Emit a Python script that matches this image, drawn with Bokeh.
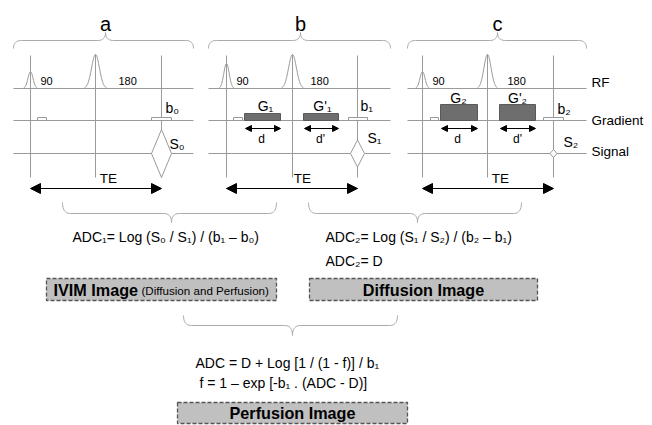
import numpy as np
from bokeh.plotting import figure
from bokeh.models import Range1d, Arrow, NormalHead, ColumnDataSource
from bokeh.core.properties import value
from bokeh.embed import file_html
from bokeh.resources import INLINE

FONT = value("Liberation Sans")

# ---- pulse-sequence panels ----
panel_names = ["a", "b", "c"]
panel_left = [13, 208, 407]
panel_right = [193, 390, 586]
panel_mid = [105, 300, 497]
t90 = [30, 226, 422]
t180 = [95, 292, 487]
techo = [161, 357, 553]
p90_peak = [71, 63, 71]
p90_halfw = [7, 7.5, 7]
p180_peak = [54, 54, 54]
p180_halfw = [11, 11, 10]
label90_x = [40, 236, 432]
label180_x = [118, 310, 507]
y_rf, y_grad, y_sig = 88, 120, 153
y_line_top, y_line_bottom = 55, 177

crusher_x0 = [37, 233, 430]
crusher_x1 = [46, 242, 438]
bval_x0 = [151, 348, 543]
bval_x1 = [171, 367, 563]
bval_labels = ["b₀", "b₁", "b₂"]
bval_label_x = [165, 360, 557]
bval_label_y = [107, 105, 108]

lobe_x0 = [244, 303, 440, 499]
lobe_x1 = [280, 338, 477, 535]
lobe_top = [113, 113, 104, 104]
lobe_labels = ["G₁", "G'₁", "G₂", "G'₂"]
lobe_label_x = [265, 322, 458, 517]
lobe_label_y = [105, 105, 97, 97]
d_labels = ["d", "d'", "d", "d'"]
d_label_x = [261, 320, 457, 517]

sig_half_h = [24, 13.5, 4]
sig_half_w = [10, 7, 3.5]
sig_labels = ["S₀", "S₁", "S₂"]
sig_label_x = [169, 367, 563]
sig_label_y = [143, 137, 141]
te_label_x = [108, 302, 500]

row_labels = ["RF", "Gradient", "Signal"]
row_label_y = [82, 120, 151]

# ---- lower part ----
brace_x0 = [62, 308, 183]
brace_x1 = [276, 521, 397]
brace_xc = [171, 417, 292]
brace_yend = [202, 202, 315]
brace_yh = [213, 213, 325]
brace_ytip = [222, 222, 335]

formula_text = ["ADC₁= Log (S₀ / S₁) / (b₁ – b₀)",
                "ADC₂= Log (S₁ / S₂) / (b₂ – b₁)",
                "ADC₂= D",
                "ADC = D + Log [1 / (1 - f)] / b₁",
                "f = 1 – exp [-b₁ . (ADC - D)]"]
formula_x = [72, 325, 325, 195, 199]
formula_y = [236, 236, 260, 362, 382]

box_left = [46, 309, 177]
box_right = [276, 537, 407]
box_top = [278, 278, 402]
box_bottom = [300, 300, 423]
box_titles = ["IVIM Image", "Diffusion Image", "Perfusion Image"]
box_title_x = [53, 423, 292]
box_title_align = ["left", "center", "center"]
box_note = "(Diffusion and Perfusion)"
box_note_x = 141

GRAY = "#9a9a9a"

p = figure(width=652, height=425, output_backend="svg", toolbar_location=None,
           x_range=Range1d(0, 652), y_range=Range1d(425, 0), min_border=0)
p.axis.visible = False
p.grid.visible = False
p.outline_line_color = None
p.background_fill_color = "white"

def brace_points(x0, x1, xc, yend, yh, ytip, r=8, n=12):
    t = np.linspace(0, 1, n)
    def q(a, c, b):
        return ((1 - t) ** 2)[:, None] * np.array(a) + (2 * (1 - t) * t)[:, None] * np.array(c) + (t ** 2)[:, None] * np.array(b)
    segs = [q((x0, yend), (x0, yh), (x0 + r, yh)),
            q((xc - r, yh), (xc, yh), (xc, ytip)),
            q((xc, ytip), (xc, yh), (xc + r, yh)),
            q((x1 - r, yh), (x1, yh), (x1, yend))]
    pts = np.vstack(segs)
    return list(pts[:, 0]), list(pts[:, 1])

bx, by = [], []
for i in range(3):
    xs, ys = brace_points(panel_left[i], panel_right[i], panel_mid[i], 48, 40, 32)
    bx.append(xs); by.append(ys)
for i in range(3):
    xs, ys = brace_points(brace_x0[i], brace_x1[i], brace_xc[i], brace_yend[i], brace_yh[i], brace_ytip[i])
    bx.append(xs); by.append(ys)
p.multi_line(bx, by, line_color="#aaaaaa", line_width=1)

# horizontal rows
hx, hy = [], []
for i in range(3):
    for yy in (y_rf, y_grad, y_sig):
        hx.append([panel_left[i], panel_right[i]]); hy.append([yy, yy])
p.multi_line(hx, hy, line_color=GRAY, line_width=1)

# vertical timing lines
vx = [[t, t] for t in t90 + techo] + [[t, t] for t in t180]
vy = [[y_line_top, y_line_bottom]] * 6 + [[p180_peak[i], y_line_bottom] for i in range(3)]
p.multi_line(vx, vy, line_color=GRAY, line_width=1)

# RF pulses
px, py = [], []
for i in range(3):
    for tc, peak, hw in ((t90[i], p90_peak[i], p90_halfw[i]), (t180[i], p180_peak[i], p180_halfw[i])):
        dx = np.linspace(-hw, hw, 40)
        sig = hw / 2.8
        px.append(list(tc + dx)); py.append(list(y_rf - (y_rf - peak) * np.exp(-0.5 * (dx / sig) ** 2)))
p.multi_line(px, py, line_color=GRAY, line_width=1)

# small gradient blips
p.quad(left=crusher_x0 + bval_x0, right=crusher_x1 + bval_x1, top=[y_grad - 3] * 6, bottom=[y_grad] * 6,
       fill_color="white", line_color=GRAY, line_width=1)
# diffusion lobes
p.quad(left=lobe_x0, right=lobe_x1, top=lobe_top, bottom=[y_grad] * 4,
       fill_color="#6e6e6e", line_color="#5a5a5a", line_width=1)

# signals (diamonds)
dxs, dys = [], []
for i in range(3):
    c, h, w = techo[i], sig_half_h[i], sig_half_w[i]
    dxs.append([c, c + w, c, c - w]); dys.append([y_sig - h, y_sig, y_sig + h, y_sig])
p.patches(dxs, dys, fill_color="white", line_color=GRAY, line_width=1)

def txt(x, y, t, size, align="left", baseline="middle", style="normal"):
    p.text(x=x, y=y, text=t, text_font=FONT, text_font_size=size, text_align=align,
           text_baseline=baseline, text_color="black", text_font_style=style)

txt(panel_mid, [23] * 3, panel_names, "20px", "center", "alphabetic")
txt(label90_x, [80] * 3, ["90"] * 3, "11px")
txt(label180_x, [80] * 3, ["180"] * 3, "11px")
txt(bval_label_x, bval_label_y, bval_labels, "14px")
txt(lobe_label_x, lobe_label_y, lobe_labels, "14px", "center")
txt(d_label_x, [138] * 4, d_labels, "12px", "center")
txt(sig_label_x, sig_label_y, sig_labels, "14px")
txt(te_label_x, [178] * 3, ["TE"] * 3, "13.5px", "center")
txt([591] * 3, row_label_y, row_labels, "13.5px")

# arrows
te_src = ColumnDataSource(dict(x0=t90, x1=techo, y=[188] * 3))
p.add_layout(Arrow(start=NormalHead(size=10, fill_color="black", line_color="black"),
                   end=NormalHead(size=10, fill_color="black", line_color="black"),
                   x_start="x0", y_start="y", x_end="x1", y_end="y", source=te_src,
                   line_color="black", line_width=1))
d_src = ColumnDataSource(dict(x0=[x + 1 for x in lobe_x0], x1=lobe_x1, y=[128] * 4))
p.add_layout(Arrow(start=NormalHead(size=6, fill_color="black", line_color="black"),
                   end=NormalHead(size=6, fill_color="black", line_color="black"),
                   x_start="x0", y_start="y", x_end="x1", y_end="y", source=d_src,
                   line_color="black", line_width=1))

# formulas
txt(formula_x, formula_y, formula_text, "14px")

# result boxes
p.quad(left=box_left, right=box_right, top=box_top, bottom=box_bottom,
       fill_color="#c0c0c0", line_color="#555555", line_dash="4 2", line_width=1.3)
box_mid = [(box_top[i] + box_bottom[i]) / 2 for i in range(3)]
for i in range(3):
    txt([box_title_x[i]], [box_mid[i]], [box_titles[i]], "16.2px", box_title_align[i], style="bold")
txt([box_note_x], [box_mid[0] + 1], [box_note], "11.6px")

open("out.html", "w").write(file_html(p, INLINE))
